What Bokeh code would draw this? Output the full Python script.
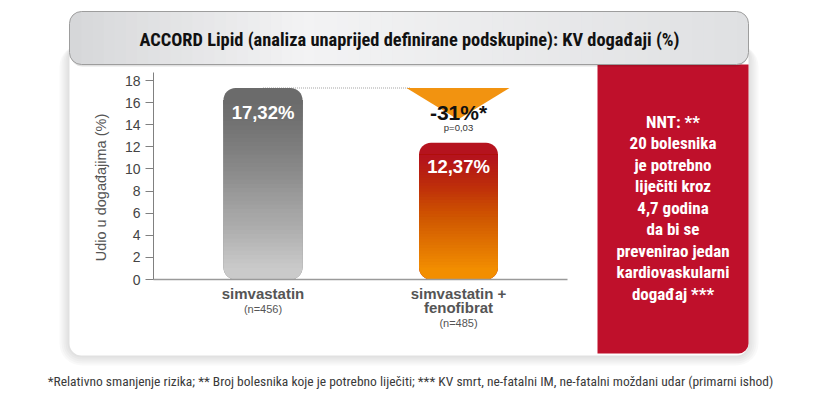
from math import pi
import numpy as np
from bokeh.plotting import figure
from bokeh.models import LinearAxis, FixedTicker, Range1d
from bokeh.core.properties import value
from bokeh.embed import file_html
from bokeh.resources import INLINE

# ---------------- data ----------------
categories = ["simvastatin", "simvastatin +\nfenofibrat"]
category_n = ["(n=456)", "(n=485)"]
event_rates = [17.32, 12.37]
y_ticks = [0, 2, 4, 6, 8, 10, 12, 14, 16, 18]
title_text = "ACCORD Lipid (analiza unaprijed definirane podskupine): KV događaji (%)"
y_label = "Udio u događajima (%)"
reduction_label = "-31%*"
p_value_label = "p=0,03"
nnt_lines = ["NNT: **", "20 bolesnika", "je potrebno", "liječiti kroz", "4,7 godina",
             "da bi se", "prevenirao jedan", "kardiovaskularni", "događaj ***"]
footnote = ("*Relativno smanjenje rizika; ** Broj bolesnika koje je potrebno liječiti; "
            "*** KV smrt, ne-fatalni IM, ne-fatalni moždani udar (primarni ishod)")

# ---------------- layout helpers (page pixel -> data) ----------------
PX0, DX = 262.5, 195.5          # page x of category 0, px per category
SY0, PY = 279.0, 199.0 / 18.0   # page y of value 0, px per unit
CW, CH, LB = 821, 397, 34        # canvas size, left border


def X(sx):
    return (sx - PX0) / DX


def Y(sy):
    return (SY0 - sy) / PY


def W(px):
    return px / DX


def H(px):
    return px / PY


def hex2rgb(c):
    c = c.lstrip("#")
    return [int(c[i:i + 2], 16) for i in (0, 2, 4)]


def grad(stops, t):
    for (t0, c0), (t1, c1) in zip(stops[:-1], stops[1:]):
        if t <= t1:
            f = 0 if t1 == t0 else (t - t0) / (t1 - t0)
            a, b = hex2rgb(c0), hex2rgb(c1)
            return "#%02x%02x%02x" % tuple(int(round(a[k] + (b[k] - a[k]) * f)) for k in range(3))
    return stops[-1][1]


SANS = value("Liberation Sans")
NARROW = value("Roboto Condensed, Roboto")

p = figure(width=CW, height=CH, output_backend="svg", toolbar_location=None,
           x_range=Range1d(X(LB), X(CW)), y_range=Range1d(Y(CH), Y(0)),
           x_axis_location=None, y_axis_location=None,
           min_border_left=LB, min_border_right=0, min_border_top=0, min_border_bottom=0,
           outline_line_color=None, background_fill_color="white", border_fill_color="white")
p.grid.visible = False

# ---------------- panel + shadow ----------------
for i in range(1, 6):
    d = 2 * i
    p.quad(left=X(69 - d), right=X(748 + d), top=Y(44), bottom=Y(355 + d),
           fill_color="black", fill_alpha=0.022, line_color=None, border_radius=12 + d)
p.quad(left=X(69), right=X(748), top=Y(44), bottom=Y(355),
       fill_color="white", line_color=None, border_radius=12)

# red NNT panel
p.quad(left=X(597), right=X(748), top=Y(64), bottom=Y(353),
       fill_color="#bf102b", line_color=None, border_radius=(0, 0, 10, 0))

# ---------------- title box ----------------
title_stops = [(0.0, "#d6d7d9"), (0.35, "#f3f3f4"), (1.0, "#dfe0e2")]
p.quad(left=X(70), right=X(747), top=Y(13), bottom=Y(66),
       fill_color="black", fill_alpha=0.12, line_color=None, border_radius=12)
p.quad(left=X(69), right=X(409), top=Y(11), bottom=Y(64),
       fill_color=title_stops[0][1], line_color=None, border_radius=(12, 0, 0, 12))
p.quad(left=X(409), right=X(748), top=Y(11), bottom=Y(64),
       fill_color=title_stops[-1][1], line_color=None, border_radius=(0, 12, 12, 0))
edges = np.linspace(81, 736, 60)
mids = (edges[:-1] + edges[1:]) / 2
p.quad(left=X(edges[:-1]), right=X(edges[1:] + 0.6), top=Y(11), bottom=Y(64),
       fill_color=[grad(title_stops, (m - 69) / (748 - 69)) for m in mids], line_color=None)
p.quad(left=X(69), right=X(748), top=Y(11), bottom=Y(64),
       fill_alpha=0, line_color="#9d9d9d", line_width=1, border_radius=12)
p.text(x=[X(409)], y=[Y(38.5)], text=[title_text], text_font=NARROW, text_font_style="bold",
       text_font_size="18.4px", text_color="#111111", text_align="center", text_baseline="middle")

# ---------------- comparison marker ----------------
p.segment(x0=[0], x1=[X(410)], y0=[event_rates[0]], y1=[event_rates[0]],
          line_color="#c4c4c4", line_dash="1 1", line_width=1.5)
p.patch(x=[X(406), X(509), X(457.5)], y=[event_rates[0], event_rates[0], Y(119)],
        fill_color="#f29310", line_color=None)

# ---------------- bars ----------------
bar_colors = [("#cacaca", "#6b6b6b"), ("#f28e00", "#b5131e")]
bw, r = W(79), 12
for i, (v, (c_bot, c_top)) in enumerate(zip(event_rates, bar_colors)):
    p.vbar(x=[i], width=bw, bottom=0, top=[v], fill_color=c_top, line_color=None, border_radius=r)
    p.vbar(x=[i], width=bw, bottom=0, top=[v - H(r)], fill_color=c_bot, line_color=None,
           border_radius=(0, 0, r, r))
    lo, hi = H(r), v - H(r)
    K = 40
    n = np.arange(1, K + 1)
    p.vbar(x=[i] * K, width=bw, bottom=lo + (hi - lo) * (n - 1) / K, top=[hi] * K,
           fill_color=c_top, fill_alpha=1.0 / (K - n + 1), line_color=None)

p.text(x=list(range(len(event_rates))), y=[v - H(24) for v in event_rates],
       text=[("%.2f" % v).replace(".", ",") + "%" for v in event_rates],
       text_font=SANS, text_font_style="bold", text_font_size="18.5px", text_color="white",
       text_align="center", text_baseline="middle")

# baseline
p.segment(x0=[X(153)], x1=[X(567)], y0=[0], y1=[0], line_color="#9a9a9a", line_width=1.5)

# reduction label
p.text(x=[1], y=[Y(112)], text=[reduction_label], text_font=SANS, text_font_style="bold",
       text_font_size="21px", text_color="#111111", text_align="center", text_baseline="middle")
p.text(x=[1], y=[Y(127)], text=[p_value_label], text_font=SANS,
       text_font_size="9.5px", text_color="#333333", text_align="center", text_baseline="middle")

# category labels
lx, ly, lt = [], [], []
nx, ny = [], []
for i, (c, nlab) in enumerate(zip(categories, category_n)):
    lines = c.split("\n")
    for j, ln in enumerate(lines):
        lx.append(i)
        ly.append(Y(292.5 + 14.5 * j))
        lt.append(ln)
    nx.append(i)
    ny.append(Y(292.5 + 14.5 * (len(lines) - 1) + 15.5))
p.text(x=lx, y=ly, text=lt, text_font=SANS, text_font_style="bold", text_font_size="15px",
       text_color="#555555", text_align="center", text_baseline="middle")
p.text(x=nx, y=ny, text=category_n, text_font=SANS, text_font_size="11px",
       text_color="#555555", text_align="center", text_baseline="middle")

# y axis
yaxis = LinearAxis(fixed_location=X(153), bounds=(0, Y(72)), ticker=FixedTicker(ticks=y_ticks),
                   axis_line_color="#808080", axis_line_width=1,
                   major_tick_out=8, major_tick_in=0, major_tick_line_color="#808080",
                   minor_tick_line_color=None, major_label_standoff=5,
                   major_label_text_font="Liberation Sans", major_label_text_font_size="14px",
                   major_label_text_color="#444444")
p.add_layout(yaxis, "left")
p.text(x=[X(100)], y=[Y(187)], text=[y_label], angle=pi / 2, text_font=SANS,
       text_font_size="14.5px", text_color="#555555", text_align="center", text_baseline="middle")

# NNT text
p.text(x=[X(672.5)] * len(nnt_lines), y=[Y(121 + 21.5 * k) for k in range(len(nnt_lines))],
       text=nnt_lines, text_font=NARROW, text_font_style="bold", text_font_size="17px",
       text_color="white", text_align="center", text_baseline="middle")

# footnote
p.text(x=[X(410)], y=[Y(380)], text=[footnote], text_font=NARROW, text_font_size="13.5px",
       text_color="#3a3a3a", text_align="center", text_baseline="middle")

open("out.html", "w").write(file_html(p, INLINE))
